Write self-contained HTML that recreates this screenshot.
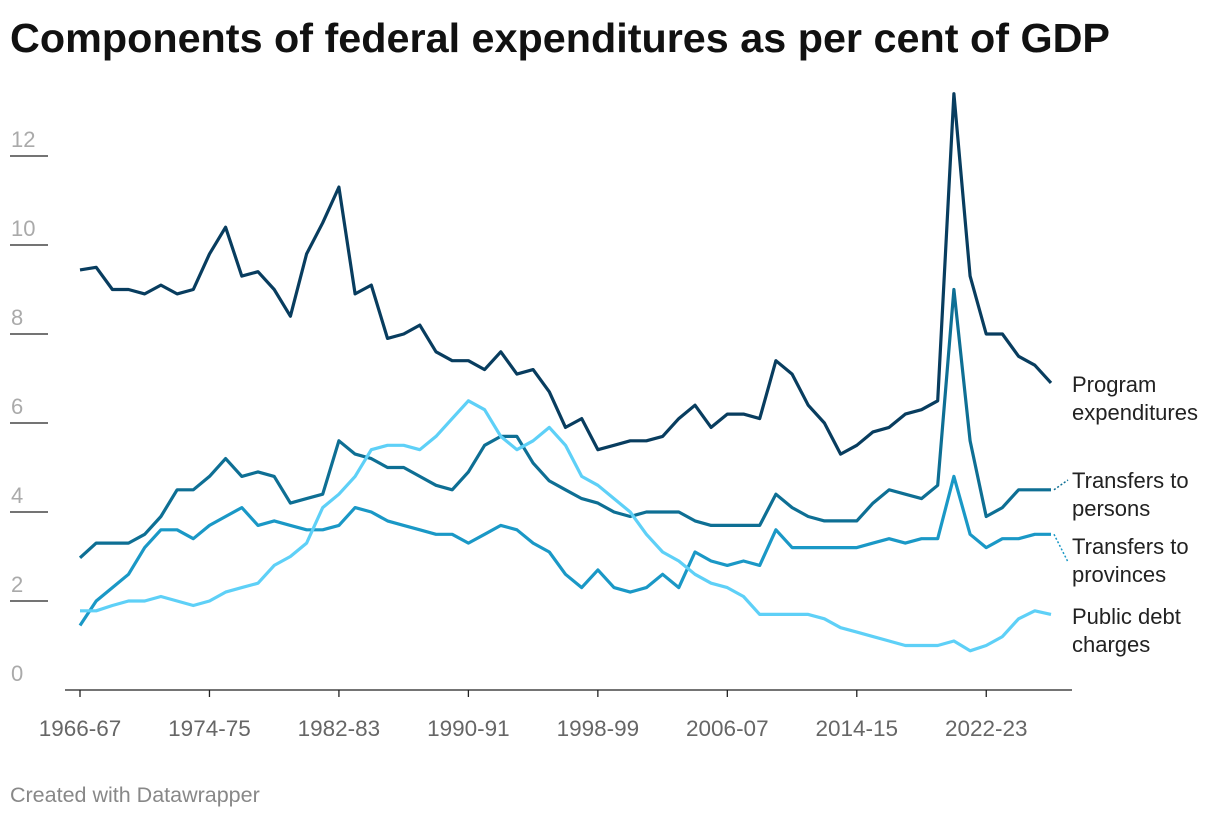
<!DOCTYPE html>
<html><head><meta charset="utf-8"><style>
body{margin:0;background:#fff;width:1220px;height:818px;overflow:hidden;font-family:"Liberation Sans",sans-serif}
svg text{font-family:"Liberation Sans",sans-serif}
</style></head><body>
<svg id="chart" width="1220" height="818" xmlns="http://www.w3.org/2000/svg">
<text x="10" y="52" font-size="41" font-weight="bold" fill="#111" textLength="1100" lengthAdjust="spacingAndGlyphs">Components of federal expenditures as per cent of GDP</text>
<text x="10" y="802" font-size="21.5" fill="#888">Created with Datawrapper</text>
<g id="axes"></g><g id="lines"></g><g id="labels"></g>
</svg>
<script>
const startYear = 1966;
const xTickLabels = ["1966-67","1974-75","1982-83","1990-91","1998-99","2006-07","2014-15","2022-23"];
const yTicks = [0,2,4,6,8,10,12];
const program = [9.44,9.5,9.0,9.0,8.9,9.1,8.9,9.0,9.8,10.4,9.3,9.4,9.0,8.4,9.8,10.5,11.3,8.9,9.1,7.9,8.0,8.2,7.6,7.4,7.4,7.2,7.6,7.1,7.2,6.7,5.9,6.1,5.4,5.5,5.6,5.6,5.7,6.1,6.4,5.9,6.2,6.2,6.1,7.4,7.1,6.4,6.0,5.3,5.5,5.8,5.9,6.2,6.3,6.5,13.4,9.3,8.0,8.0,7.5,7.3,6.9];
const persons = [2.97,3.3,3.3,3.3,3.5,3.9,4.5,4.5,4.8,5.2,4.8,4.9,4.8,4.2,4.3,4.4,5.6,5.3,5.2,5.0,5.0,4.8,4.6,4.5,4.9,5.5,5.7,5.7,5.1,4.7,4.5,4.3,4.2,4.0,3.9,4.0,4.0,4.0,3.8,3.7,3.7,3.7,3.7,4.4,4.1,3.9,3.8,3.8,3.8,4.2,4.5,4.4,4.3,4.6,9.0,5.6,3.9,4.1,4.5,4.5,4.5];
const provinces = [1.45,2.0,2.3,2.6,3.2,3.6,3.6,3.4,3.7,3.9,4.1,3.7,3.8,3.7,3.6,3.6,3.7,4.1,4.0,3.8,3.7,3.6,3.5,3.5,3.3,3.5,3.7,3.6,3.3,3.1,2.6,2.3,2.7,2.3,2.2,2.3,2.6,2.3,3.1,2.9,2.8,2.9,2.8,3.6,3.2,3.2,3.2,3.2,3.2,3.3,3.4,3.3,3.4,3.4,4.8,3.5,3.2,3.4,3.4,3.5,3.5];
const debt = [1.78,1.78,1.9,2.0,2.0,2.1,2.0,1.9,2.0,2.2,2.3,2.4,2.8,3.0,3.3,4.1,4.4,4.8,5.4,5.5,5.5,5.4,5.7,6.1,6.5,6.3,5.7,5.4,5.6,5.9,5.5,4.8,4.6,4.3,4.0,3.5,3.1,2.9,2.6,2.4,2.3,2.1,1.7,1.7,1.7,1.7,1.6,1.4,1.3,1.2,1.1,1.0,1.0,1.0,1.1,0.88,1.0,1.2,1.6,1.78,1.7];
const seriesNames = [["Program","expenditures"],["Transfers to","persons"],["Transfers to","provinces"],["Public debt","charges"]];
const NS="http://www.w3.org/2000/svg";
const xS = i => 80 + i*16.183;
const yS = v => 690 - v*44.5;
function mk(tag, attrs, parent){const e=document.createElementNS(NS,tag);for(const k in attrs)e.setAttribute(k,attrs[k]);parent.appendChild(e);return e;}
const axes=document.getElementById('axes'), lines=document.getElementById('lines'), labels=document.getElementById('labels');
yTicks.forEach(t=>{
  const y=yS(t);
  const tx=mk('text',{x:11,y:y-9,'font-size':22,fill:'#aaa'},axes);tx.textContent=t;
  
  
  if(t>0){const l=mk('line',{x1:10,x2:48,y1:y,y2:y,stroke:'#222','stroke-width':1.3},axes);
  
  }
});
const base=mk('line',{x1:65,x2:1072,y1:690,y2:690,stroke:'#222','stroke-width':1.3},axes);


xTickLabels.forEach(lbl=>{
  const i=parseInt(lbl)-startYear, x=xS(i);
  const tk=mk('line',{x1:x,x2:x,y1:690,y2:697,stroke:'#222','stroke-width':1.3},axes);
  
  
  const t=mk('text',{x:x,y:736,'font-size':22.5,fill:'#666','text-anchor':'middle'},axes);t.textContent=lbl;
  
  
});
const all=[[program,'#083d5f','program-expenditures-line'],[persons,'#0e6f94','transfers-to-persons-line'],[provinces,'#1a98c6','transfers-to-provinces-line'],[debt,'#5ed0f7','public-debt-charges-line']];
const labelY=[[392,420],[488,516],[554,582],[624,652]];
all.forEach((s,k)=>{
  const d=s[0].map((v,i)=>(i?'L':'M')+xS(i).toFixed(1)+','+yS(v).toFixed(1)).join('');
  const p=mk('path',{d:d,fill:'none',stroke:s[1],'stroke-width':3.2,'stroke-linejoin':'round'},lines);
  
  
  if(k===1||k===2){
    const last=s[0].length-1;
    const c=mk('line',{x1:xS(last)+3,y1:yS(s[0][last]),x2:1068,y2:labelY[k][0]-(k===1?8:-8),stroke:s[1],'stroke-width':1.5,'stroke-dasharray':'2,2'},lines);
    
    
  }
  const g=mk('text',{x:1072,y:labelY[k][0],'font-size':22,fill:'#222'},labels);
  
  
  mk('tspan',{x:1072,y:labelY[k][0]},g).textContent=seriesNames[k][0];
  mk('tspan',{x:1072,y:labelY[k][1]},g).textContent=seriesNames[k][1];
});
</script>
</body></html>
